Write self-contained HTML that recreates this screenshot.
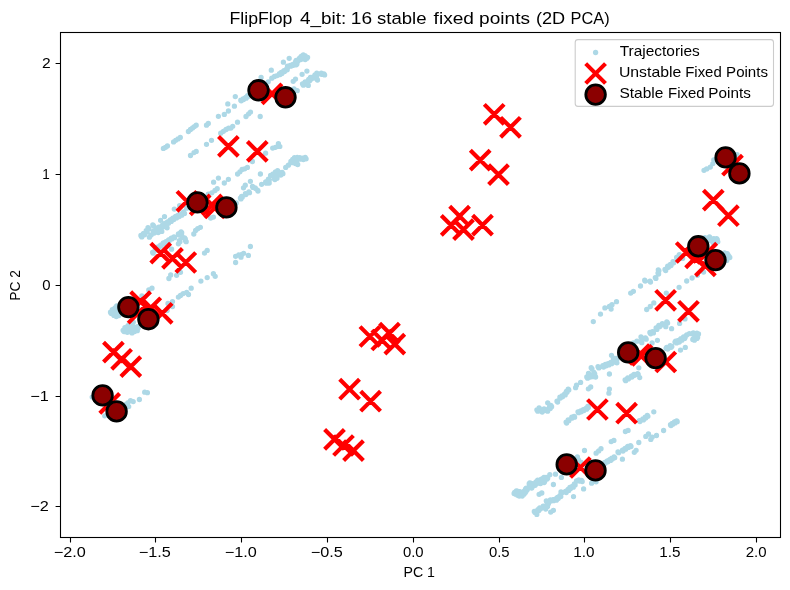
<!DOCTYPE html>
<html><head><meta charset="utf-8"><title>FlipFlop 4_bit</title>
<style>html,body{margin:0;padding:0;background:#fff;}svg{display:block;will-change:transform;}</style>
</head><body>
<svg width="790" height="590" viewBox="0 0 790 590">
<rect x="0" y="0" width="790" height="590" fill="#fff"/>
<defs><clipPath id="c"><rect x="60.5" y="32.5" width="720.0" height="505.0"/></clipPath></defs>
<g clip-path="url(#c)">
<g fill="#add8e6">
<path d="M235.3 96.6h0M241.0 100.5h0M243.3 99.2h0M246.0 97.8h0M247.8 96.0h0M261.1 77.4h0M271.3 70.2h0M268.2 81.8h0M271.8 78.2h0M274.5 76.5h0M277.1 75.6h0M279.8 74.2h0M281.6 72.9h0M283.4 62.2h0M289.2 58.3h0M284.3 71.1h0M286.9 69.4h0M287.8 66.7h0M290.5 65.8h0M293.2 64.9h0M295.8 64.0h0M296.7 61.3h0M300.3 58.7h0M302.1 56.9h0M303.8 55.7h0M306.5 57.4h0M304.7 58.7h0M234.4 106.2h0M246.0 116.5h0M248.7 113.8h0M250.5 112.1h0M260.2 116.5h0M237.5 122.2h0M232.7 126.3h0M230.9 128.1h0M293.2 81.3h0M295.5 79.1h0M297.2 90.7h0M294.0 88.9h0M302.1 74.3h0M306.9 71.1h0M302.9 84.5h0M305.6 82.7h0M308.3 85.4h0M309.2 80.0h0M310.9 78.2h0M313.6 77.4h0M315.4 75.6h0M317.2 73.8h0M321.6 73.8h0M324.3 74.3h0M317.2 79.5h0M278.4 143.7h0M163.4 148.4h0M165.6 147.3h0M167.4 146.0h0M173.6 141.9h0M175.7 140.3h0M178.0 138.9h0M180.3 137.5h0M188.4 131.5h0M190.5 129.5h0M192.6 127.9h0M194.4 126.6h0M196.2 125.2h0M206.5 125.2h0M208.3 123.4h0M218.4 116.3h0M224.3 114.4h0M228.4 111.0h0M227.8 103.9h0M190.5 155.5h0M194.0 152.6h0M196.2 151.4h0M206.5 144.3h0M211.5 140.3h0M220.7 133.2h0M223.4 131.3h0M226.1 129.5h0M228.7 128.1h0M265.6 153.2h0M252.4 161.5h0M247.4 167.4h0M244.7 168.8h0M242.1 169.5h0M239.9 171.8h0M237.6 174.0h0M260.4 174.0h0M218.4 178.1h0M213.6 182.2h0M228.4 179.3h0M224.3 183.0h0M250.4 181.3h0M245.3 185.2h0M243.5 187.8h0M252.8 187.0h0M255.4 188.2h0M257.7 190.5h0M261.6 184.3h0M266.1 182.5h0M268.8 179.8h0M217.2 188.7h0M215.0 190.5h0M211.8 192.8h0M208.3 194.1h0M249.2 192.3h0M245.6 194.1h0M272.7 148.1h0M275.4 147.3h0M279.8 146.4h0M241.9 196.7h0M240.7 198.5h0M236.2 202.9h0M268.8 182.5h0M270.6 175.4h0M273.6 174.5h0M275.9 172.7h0M278.0 171.3h0M276.6 177.7h0M274.5 178.9h0M282.5 173.1h0M280.3 174.5h0M285.7 167.4h0M288.4 165.2h0M291.4 162.0h0M293.2 160.2h0M294.9 158.5h0M297.6 158.1h0M300.3 158.5h0M302.9 158.8h0M305.6 158.1h0M297.2 163.8h0M294.9 162.9h0M141.3 236.2h0M144.0 234.0h0M146.7 231.4h0M148.5 228.4h0M149.4 237.2h0M151.1 234.9h0M153.8 232.3h0M153.3 225.5h0M156.5 229.6h0M159.1 227.8h0M161.8 231.4h0M162.7 226.0h0M160.6 220.3h0M164.5 216.6h0M165.4 224.3h0M168.0 222.5h0M170.7 220.7h0M173.4 218.9h0M176.0 217.1h0M178.7 215.9h0M181.4 214.5h0M184.0 212.7h0M174.3 209.1h0M179.6 205.6h0M167.1 227.8h0M158.2 232.6h0M186.7 208.2h0M152.9 252.7h0M155.6 249.7h0M158.2 247.4h0M160.9 245.6h0M163.6 243.3h0M166.3 242.1h0M168.9 240.3h0M171.6 238.5h0M174.3 237.2h0M178.7 234.4h0M181.4 232.3h0M182.3 236.7h0M184.9 238.5h0M185.8 241.2h0M179.6 241.2h0M178.4 243.8h0M171.6 249.2h0M193.8 234.0h0M195.6 230.5h0M197.7 228.7h0M200.4 227.3h0M210.7 218.0h0M213.4 217.1h0M204.5 253.1h0M207.2 250.4h0M235.6 256.3h0M235.6 262.5h0M238.8 255.0h0M241.0 257.2h0M243.6 253.3h0M248.4 255.4h0M250.4 246.5h0M180.5 272.3h0M213.4 273.7h0M170.7 275.0h0M152.0 288.2h0M148.8 290.0h0M141.9 295.9h0M168.9 278.5h0M176.6 275.3h0M200.9 281.1h0M207.2 277.6h0M215.2 276.3h0M191.2 288.2h0M186.7 292.3h0M188.5 294.5h0M183.2 293.6h0M180.5 295.4h0M178.4 297.1h0M172.5 301.6h0M168.0 303.4h0M172.5 306.6h0M167.1 310.5h0M241.9 254.4h0M123.6 330.9h0M125.3 328.3h0M128.0 325.6h0M130.7 323.8h0M133.3 322.1h0M128.9 330.9h0M131.6 332.2h0M134.2 330.9h0M136.9 330.1h0M137.8 327.4h0M110.9 312.9h0M112.7 310.2h0M115.4 308.5h0M117.1 306.7h0M113.6 314.7h0M116.3 316.5h0M118.9 315.6h0M119.8 312.0h0M126.9 331.6h0M134.0 327.7h0M144.7 392.2h0M147.4 392.7h0M139.4 399.5h0M133.2 401.6h0M130.5 400.7h0M127.8 403.0h0M128.7 406.6h0M126.0 404.3h0M104.7 415.8h0M92.2 397.1h0M537.4 410.5h0M539.5 408.7h0M541.8 411.4h0M544.5 409.6h0M547.1 410.5h0M549.8 407.8h0M551.2 406.0h0M547.7 402.8h0M557.3 401.6h0M560.1 397.7h0M562.3 396.3h0M564.9 394.5h0M566.7 391.8h0M568.5 389.5h0M575.6 387.7h0M576.5 385.2h0M580.6 382.4h0M587.2 377.6h0M589.8 376.3h0M592.5 375.8h0M595.2 376.3h0M591.6 368.3h0M594.3 373.1h0M598.4 367.3h0M603.2 366.4h0M605.9 365.1h0M608.5 364.2h0M611.2 363.0h0M613.9 361.6h0M616.5 362.1h0M613.9 358.9h0M611.5 355.3h0M566.4 422.6h0M568.5 420.3h0M572.1 417.6h0M574.4 416.7h0M578.3 412.3h0M580.9 411.4h0M583.6 410.1h0M586.3 408.7h0M588.1 406.9h0M588.4 388.8h0M590.7 387.0h0M609.4 374.0h0M609.4 389.1h0M608.9 393.2h0M625.4 380.2h0M628.1 378.5h0M631.6 376.7h0M634.3 374.9h0M637.9 374.0h0M639.7 377.6h0M638.8 367.8h0M625.4 431.5h0M628.1 430.4h0M611.2 441.6h0M613.9 440.4h0M601.0 448.7h0M596.1 453.2h0M584.5 450.5h0M618.3 452.3h0M622.8 450.5h0M625.4 448.7h0M628.1 447.0h0M630.8 446.1h0M634.3 452.3h0M638.8 442.5h0M639.7 421.2h0M515.1 493.4h0M516.9 491.6h0M518.7 495.2h0M520.5 492.5h0M522.2 496.0h0M524.0 494.3h0M524.9 491.6h0M526.7 488.9h0M530.2 483.6h0M531.1 487.1h0M534.7 484.5h0M536.5 482.7h0M538.2 480.9h0M540.0 482.7h0M541.8 480.0h0M543.6 481.8h0M544.5 478.2h0M546.6 478.2h0M549.8 474.7h0M555.5 474.2h0M561.4 477.4h0M553.4 484.5h0M539.1 494.3h0M541.8 493.0h0M577.4 456.9h0M578.3 459.6h0M580.9 462.2h0M534.7 512.1h0M536.5 513.8h0M538.2 510.3h0M540.0 508.5h0M543.6 506.7h0M545.4 508.5h0M547.1 505.8h0M548.0 503.2h0M546.6 501.4h0M550.7 500.5h0M553.4 500.1h0M556.0 499.6h0M557.8 497.8h0M560.5 496.0h0M561.4 492.5h0M565.8 491.9h0M568.5 489.8h0M570.3 488.0h0M572.9 486.6h0M574.7 484.5h0M576.5 480.9h0M579.2 480.6h0M581.8 480.9h0M573.5 496.6h0M583.6 488.9h0M550.7 512.1h0M553.4 510.3h0M591.6 483.2h0M596.1 481.8h0M605.0 462.8h0M607.6 461.3h0M610.3 459.9h0M612.1 458.7h0M614.4 457.3h0M622.4 459.2h0M636.1 450.3h0M643.2 419.5h0M645.5 417.7h0M647.6 415.9h0M653.8 411.8h0M670.7 425.2h0M672.5 423.9h0M674.8 422.5h0M677.0 421.2h0M663.6 430.5h0M656.5 435.5h0M648.5 434.0h0M645.8 436.4h0M652.1 437.2h0M650.8 439.4h0M598.7 450.9h0M593.3 321.6h0M600.5 314.1h0M604.9 307.9h0M611.1 309.1h0M612.0 304.7h0M616.5 301.7h0M630.7 293.1h0M633.4 291.3h0M640.5 286.0h0M644.9 280.7h0M650.3 281.6h0M655.6 278.0h0M658.3 273.6h0M665.4 270.0h0M609.4 306.5h0M646.7 309.5h0M650.3 306.5h0M653.8 302.9h0M666.3 293.1h0M679.1 287.3h0M686.7 281.0h0M692.1 278.0h0M697.4 275.3h0M616.5 359.0h0M633.4 342.9h0M636.9 341.2h0M641.4 337.6h0M645.8 338.5h0M641.4 342.1h0M650.3 333.2h0M652.9 332.3h0M656.5 328.7h0M659.2 326.0h0M662.7 324.3h0M667.2 322.5h0M665.4 326.0h0M671.6 328.7h0M679.6 323.4h0M685.0 318.9h0M657.4 340.3h0M652.1 342.9h0M667.2 348.3h0M670.7 346.5h0M676.1 342.1h0M678.7 341.2h0M681.4 339.4h0M684.1 337.6h0M686.7 334.9h0M689.4 333.7h0M693.9 333.7h0M697.4 334.0h0M696.5 337.6h0M693.9 339.4h0M680.5 350.1h0M685.3 347.4h0M588.9 374.1h0M658.6 270.3h0M668.0 266.7h0M670.7 264.9h0M673.4 262.3h0M679.6 255.2h0M682.3 257.8h0M703.6 272.1h0M709.8 237.4h0M717.0 239.1h0M712.5 241.8h0M708.1 240.0h0M717.8 241.8h0M725.0 253.4h0M729.4 256.9h0M726.7 260.5h0M723.2 263.2h0M727.6 254.3h0M704.0 170.3h0M706.7 168.9h0M710.3 167.1h0M712.9 163.6h0M713.8 160.0h0M737.0 154.7h0M114.5 312.0h0M116.6 311.1h0M118.0 309.4h0M116.6 313.8h0M129.6 328.9h0M132.3 328.9h0M705.4 238.2h0M714.3 239.1h0M710.7 240.0h0M715.2 242.7h0M724.1 256.0h0M726.7 256.9h0M676.9 257.8h0M241.2 100.8h0M240.8 100.2h0M243.5 99.6h0M243.1 98.9h0M246.2 98.2h0M245.8 97.5h0M248.0 96.4h0M247.6 95.7h0M280.1 74.6h0M279.5 73.7h0M281.9 73.4h0M281.3 72.5h0M284.5 71.6h0M284.0 70.7h0M287.2 69.8h0M286.7 68.9h0M288.1 67.1h0M287.5 66.2h0M290.8 66.2h0M290.2 65.4h0M293.4 65.3h0M292.9 64.5h0M296.3 64.8h0M295.3 63.2h0M296.9 63.9h0M294.8 64.1h0M297.2 62.2h0M296.2 60.5h0M297.8 61.3h0M295.7 61.4h0M300.8 59.5h0M299.8 57.9h0M301.3 58.6h0M299.2 58.8h0M302.6 57.7h0M301.5 56.1h0M303.1 56.8h0M301.0 57.0h0M304.3 56.5h0M303.3 54.8h0M304.9 55.6h0M302.8 55.7h0M307.0 58.3h0M306.0 56.6h0M307.6 57.3h0M305.4 57.5h0M305.2 59.5h0M304.2 57.9h0M305.8 58.6h0M303.7 58.8h0M303.4 85.2h0M302.5 83.8h0M306.1 83.4h0M305.2 82.0h0M309.6 80.7h0M308.7 79.3h0M311.4 79.0h0M310.5 77.5h0M314.0 77.9h0M313.3 76.8h0M315.7 76.1h0M315.0 75.0h0M317.5 74.4h0M316.8 73.2h0M322.0 74.4h0M321.3 73.2h0M324.6 74.9h0M323.9 73.8h0M317.5 80.0h0M316.8 78.9h0M253.0 187.4h0M252.5 186.5h0M255.7 188.6h0M255.1 187.8h0M258.0 191.0h0M257.5 190.1h0M266.5 183.2h0M265.7 181.8h0M269.2 180.5h0M268.4 179.2h0M249.5 192.7h0M248.9 191.9h0M245.9 194.5h0M245.4 193.6h0M242.2 197.2h0M241.6 196.3h0M240.9 198.9h0M240.4 198.1h0M269.2 183.1h0M268.4 181.8h0M274.0 175.1h0M273.2 173.8h0M276.3 173.4h0M275.5 172.0h0M278.4 171.9h0M277.6 170.6h0M277.0 178.3h0M276.2 177.0h0M274.9 179.6h0M274.1 178.3h0M282.9 173.7h0M282.1 172.4h0M280.8 175.1h0M279.9 173.8h0M291.8 162.7h0M290.9 161.3h0M293.6 161.0h0M292.7 159.5h0M295.4 159.2h0M294.5 157.7h0M298.1 158.8h0M297.2 157.4h0M300.7 159.2h0M299.8 157.7h0M303.4 159.5h0M302.5 158.1h0M306.1 158.8h0M305.2 157.4h0M297.7 164.5h0M296.8 163.1h0M295.4 163.6h0M294.5 162.2h0M141.8 236.9h0M140.9 235.5h0M144.5 234.8h0M143.6 233.3h0M147.1 232.1h0M146.2 230.7h0M148.9 229.1h0M148.0 227.6h0M154.2 233.0h0M153.4 231.5h0M153.7 226.2h0M152.8 224.8h0M156.9 230.3h0M156.0 228.9h0M159.6 228.5h0M158.7 227.1h0M163.1 226.8h0M162.2 225.3h0M165.8 225.0h0M164.9 223.5h0M168.5 223.2h0M167.6 221.8h0M171.2 221.4h0M170.3 220.0h0M173.8 219.6h0M172.9 218.2h0M176.5 217.9h0M175.6 216.4h0M179.2 216.6h0M178.3 215.2h0M181.8 215.2h0M180.9 213.8h0M184.5 213.4h0M183.6 212.0h0M153.2 253.2h0M152.6 252.3h0M155.9 250.1h0M155.3 249.3h0M158.5 247.8h0M158.0 246.9h0M161.2 246.1h0M160.6 245.2h0M163.9 243.7h0M163.3 242.9h0M166.5 242.5h0M166.0 241.6h0M169.2 240.7h0M168.6 239.8h0M171.9 238.9h0M171.3 238.1h0M174.5 237.7h0M174.0 236.8h0M179.1 235.0h0M178.4 233.8h0M181.7 232.7h0M181.1 231.8h0M182.6 237.3h0M181.9 236.2h0M185.3 239.0h0M184.6 237.9h0M186.2 241.7h0M185.5 240.6h0M179.9 241.7h0M179.3 240.6h0M124.0 331.6h0M123.1 330.3h0M125.8 328.9h0M124.9 327.6h0M129.3 331.6h0M128.5 330.3h0M132.0 332.9h0M131.2 331.5h0M134.6 331.6h0M133.8 330.3h0M137.3 330.7h0M136.5 329.4h0M138.2 328.1h0M137.4 326.7h0M111.3 313.6h0M110.5 312.2h0M113.1 310.9h0M112.3 309.6h0M115.8 309.1h0M115.0 307.8h0M117.6 307.3h0M116.7 306.0h0M114.0 315.4h0M113.2 314.0h0M120.2 312.7h0M119.4 311.4h0M127.3 332.3h0M126.5 330.9h0M134.5 328.3h0M133.6 327.0h0M537.8 411.2h0M536.9 409.8h0M539.9 409.4h0M539.1 408.0h0M542.2 412.0h0M541.4 410.7h0M544.9 410.3h0M544.1 408.9h0M547.6 411.2h0M546.7 409.8h0M550.2 408.5h0M549.4 407.2h0M551.6 406.7h0M550.8 405.4h0M557.6 402.0h0M557.0 401.2h0M560.4 398.1h0M559.9 397.2h0M562.5 396.7h0M562.0 395.8h0M565.2 394.9h0M564.7 394.0h0M567.0 392.2h0M566.4 391.4h0M568.8 389.9h0M568.2 389.1h0M587.6 378.2h0M586.8 376.9h0M590.3 377.0h0M589.4 375.7h0M592.9 376.5h0M592.1 375.1h0M595.6 377.0h0M594.8 375.7h0M592.0 369.0h0M591.2 367.7h0M594.7 373.8h0M593.9 372.5h0M598.8 367.9h0M598.0 366.6h0M603.6 367.0h0M602.8 365.7h0M606.3 365.8h0M605.4 364.5h0M608.9 364.9h0M608.1 363.6h0M611.6 363.7h0M610.8 362.3h0M614.3 362.2h0M613.4 360.9h0M616.9 362.8h0M616.1 361.4h0M614.3 359.6h0M613.4 358.2h0M566.6 423.0h0M566.1 422.1h0M568.8 420.7h0M568.2 419.8h0M572.3 418.0h0M571.8 417.2h0M574.6 417.2h0M574.1 416.3h0M578.6 412.7h0M578.0 411.8h0M581.2 411.8h0M580.7 410.9h0M583.9 410.6h0M583.3 409.7h0M586.6 409.2h0M586.0 408.3h0M588.3 407.4h0M587.8 406.5h0M625.7 380.7h0M625.1 379.8h0M628.4 378.9h0M627.8 378.0h0M631.9 377.1h0M631.4 376.2h0M634.6 375.3h0M634.0 374.5h0M638.2 374.5h0M637.6 373.6h0M618.6 452.7h0M618.0 451.9h0M623.0 451.0h0M622.5 450.1h0M625.7 449.2h0M625.1 448.3h0M628.4 447.4h0M627.8 446.5h0M631.0 446.5h0M630.5 445.6h0M639.9 421.6h0M639.4 420.7h0M515.6 494.2h0M514.6 492.5h0M516.2 493.3h0M514.1 493.5h0M517.4 492.4h0M516.4 490.8h0M518.0 491.5h0M515.8 491.7h0M519.2 496.0h0M518.2 494.3h0M519.7 495.1h0M517.6 495.2h0M521.0 493.3h0M519.9 491.7h0M521.5 492.4h0M519.4 492.6h0M525.4 492.4h0M524.4 490.8h0M526.0 491.5h0M523.8 491.7h0M527.2 489.8h0M526.2 488.1h0M527.7 488.8h0M525.6 489.0h0M530.8 484.4h0M529.7 482.8h0M531.3 483.5h0M529.2 483.7h0M531.7 488.0h0M530.6 486.3h0M532.2 487.1h0M530.1 487.2h0M535.2 485.3h0M534.2 483.6h0M535.7 484.4h0M533.6 484.6h0M537.0 483.5h0M536.0 481.9h0M537.5 482.6h0M535.4 482.8h0M538.8 481.7h0M537.7 480.1h0M539.3 480.8h0M537.2 481.0h0M540.5 483.5h0M539.5 481.9h0M541.1 482.6h0M539.0 482.8h0M542.3 480.9h0M541.3 479.2h0M542.9 479.9h0M540.7 480.1h0M544.1 482.6h0M543.1 481.0h0M544.6 481.7h0M542.5 481.9h0M545.0 479.1h0M544.0 477.4h0M545.5 478.2h0M543.4 478.3h0M547.1 479.1h0M546.1 477.4h0M547.7 478.2h0M545.6 478.3h0M535.0 512.6h0M534.3 511.5h0M536.8 514.4h0M536.1 513.3h0M538.6 510.8h0M537.9 509.7h0M540.4 509.0h0M539.7 507.9h0M543.9 507.3h0M543.2 506.2h0M545.7 509.0h0M545.0 507.9h0M547.5 506.4h0M546.8 505.3h0M548.4 503.7h0M547.7 502.6h0M547.0 501.9h0M546.3 500.8h0M551.0 501.0h0M550.4 499.9h0M553.7 500.7h0M553.0 499.6h0M556.4 500.2h0M555.7 499.0h0M558.2 498.4h0M557.5 497.3h0M560.8 496.6h0M560.1 495.5h0M561.7 493.0h0M561.0 491.9h0M566.2 492.5h0M565.5 491.4h0M568.8 490.4h0M568.1 489.3h0M570.6 488.6h0M569.9 487.5h0M573.3 487.2h0M572.6 486.1h0M575.1 485.0h0M574.4 483.9h0M579.5 481.1h0M578.8 480.0h0M582.2 481.5h0M581.5 480.4h0M605.2 463.2h0M604.7 462.3h0M607.9 461.8h0M607.4 460.9h0M610.6 460.4h0M610.0 459.5h0M612.4 459.1h0M611.8 458.2h0M614.7 457.7h0M614.1 456.8h0M643.4 419.9h0M642.9 419.0h0M645.7 418.1h0M645.2 417.2h0M647.9 416.3h0M647.3 415.5h0M671.0 425.6h0M670.5 424.7h0M672.8 424.3h0M672.2 423.5h0M675.1 422.9h0M674.5 422.0h0M677.2 421.7h0M676.7 420.8h0M645.2 281.1h0M644.7 280.2h0M650.5 282.0h0M650.0 281.1h0M655.9 278.4h0M655.3 277.6h0M658.6 274.0h0M658.0 273.1h0M665.7 270.6h0M665.0 269.4h0M616.9 359.6h0M616.1 358.3h0M641.8 338.3h0M641.0 336.9h0M646.2 339.2h0M645.4 337.8h0M641.8 342.7h0M641.0 341.4h0M650.7 333.8h0M649.9 332.5h0M653.4 332.9h0M652.5 331.6h0M656.9 329.4h0M656.1 328.0h0M659.6 326.7h0M658.8 325.4h0M663.1 324.9h0M662.3 323.6h0M667.6 323.1h0M666.8 321.8h0M665.8 326.7h0M665.0 325.4h0M667.7 349.1h0M666.7 347.4h0M668.2 348.2h0M666.1 348.4h0M671.2 347.3h0M670.2 345.7h0M671.8 346.4h0M669.7 346.6h0M676.6 342.9h0M675.6 341.2h0M677.1 342.0h0M675.0 342.1h0M679.3 342.0h0M678.2 340.3h0M679.8 341.1h0M677.7 341.2h0M681.9 340.2h0M680.9 338.6h0M682.5 339.3h0M680.3 339.5h0M684.6 338.4h0M683.6 336.8h0M685.1 337.5h0M683.0 337.7h0M694.4 334.5h0M693.3 332.9h0M694.9 333.6h0M692.8 333.8h0M697.9 334.9h0M696.9 333.2h0M698.5 334.0h0M696.4 334.1h0M697.0 338.4h0M696.0 336.8h0M697.6 337.5h0M695.5 337.7h0M694.4 340.2h0M693.3 338.6h0M694.9 339.3h0M692.8 339.5h0M589.3 374.7h0M588.5 373.4h0M658.9 270.7h0M658.3 269.8h0M668.4 267.3h0M667.7 266.2h0M671.0 265.5h0M670.4 264.4h0M673.7 262.8h0M673.0 261.7h0M679.9 255.7h0M679.3 254.6h0M682.6 258.4h0M681.9 257.3h0M710.2 237.9h0M709.5 236.8h0M717.3 239.7h0M716.6 238.6h0M712.9 242.4h0M712.2 241.3h0M708.4 240.6h0M707.7 239.5h0M725.3 253.9h0M724.6 252.8h0M729.8 257.5h0M729.1 256.4h0M728.0 254.8h0M727.3 253.7h0M114.9 312.7h0M114.1 311.4h0M117.0 311.8h0M116.2 310.5h0M118.4 310.0h0M117.6 308.7h0M117.0 314.5h0M116.2 313.1h0M130.0 329.6h0M129.2 328.3h0M132.7 329.6h0M131.9 328.3h0M705.7 238.8h0M705.0 237.7h0M714.6 239.7h0M713.9 238.6h0M711.1 240.6h0M710.4 239.5h0M724.4 256.6h0M723.7 255.5h0M727.1 257.5h0M726.4 256.4h0M677.3 258.4h0M676.6 257.3h0" stroke="#add8e6" stroke-width="5.3" stroke-linecap="round" fill="none"/>
</g>
<path d="M262.1 83.9L281.9 103.7M262.1 103.7L281.9 83.9M218.5 136.5L238.3 156.3M218.5 156.3L238.3 136.5M247.4 141.5L267.2 161.3M247.4 161.3L267.2 141.5M177.0 191.4L196.8 211.2M177.0 211.2L196.8 191.4M190.3 195.0L210.1 214.8M190.3 214.8L210.1 195.0M202.0 195.0L221.8 214.8M202.0 214.8L221.8 195.0M204.8 198.1L224.6 217.9M204.8 217.9L224.6 198.1M150.8 243.2L170.6 263.0M150.8 263.0L170.6 243.2M162.6 248.5L182.4 268.3M162.6 268.3L182.4 248.5M175.9 252.6L195.7 272.4M175.9 272.4L195.7 252.6M130.7 291.7L150.5 311.5M130.7 311.5L150.5 291.7M140.9 297.9L160.7 317.7M140.9 317.7L160.7 297.9M152.3 303.4L172.1 323.2M152.3 323.2L172.1 303.4M128.2 303.3L148.0 323.1M128.2 323.1L148.0 303.3M103.5 342.2L123.3 362.0M103.5 362.0L123.3 342.2M111.7 349.4L131.5 369.2M111.7 369.2L131.5 349.4M120.9 356.7L140.7 376.5M120.9 376.5L140.7 356.7M99.8 393.5L119.6 413.3M99.8 413.3L119.6 393.5M484.3 104.4L504.1 124.2M484.3 124.2L504.1 104.4M500.6 117.4L520.4 137.2M500.6 137.2L520.4 117.4M470.3 150.2L490.1 170.0M470.3 170.0L490.1 150.2M488.6 164.7L508.4 184.5M488.6 184.5L508.4 164.7M449.7 206.3L469.5 226.1M449.7 226.1L469.5 206.3M441.3 215.5L461.1 235.3M441.3 235.3L461.1 215.5M453.6 219.7L473.4 239.5M453.6 239.5L473.4 219.7M472.6 215.2L492.4 235.0M472.6 235.0L492.4 215.2M360.0 326.6L379.8 346.4M360.0 346.4L379.8 326.6M371.9 330.1L391.7 349.9M371.9 349.9L391.7 330.1M379.6 323.2L399.4 343.0M379.6 343.0L399.4 323.2M384.9 334.2L404.7 354.0M384.9 354.0L404.7 334.2M339.7 379.3L359.5 399.1M339.7 399.1L359.5 379.3M360.7 391.3L380.5 411.1M360.7 411.1L380.5 391.3M324.6 429.5L344.4 449.3M324.6 449.3L344.4 429.5M333.6 435.6L353.4 455.4M333.6 455.4L353.4 435.6M343.6 440.7L363.4 460.5M343.6 460.5L363.4 440.7M722.6 155.3L742.4 175.1M722.6 175.1L742.4 155.3M703.4 190.2L723.2 210.0M703.4 210.0L723.2 190.2M718.5 205.8L738.3 225.6M718.5 225.6L738.3 205.8M676.3 242.6L696.1 262.4M676.3 262.4L696.1 242.6M685.7 247.9L705.5 267.7M685.7 267.7L705.5 247.9M695.5 255.9L715.3 275.7M695.5 275.7L715.3 255.9M696.9 243.3L716.7 263.1M696.9 263.1L716.7 243.3M655.7 290.4L675.5 310.2M655.7 310.2L675.5 290.4M678.6 301.4L698.4 321.2M678.6 321.2L698.4 301.4M632.1 345.4L651.9 365.2M632.1 365.2L651.9 345.4M629.7 344.6L649.5 364.4M629.7 364.4L649.5 344.6M655.9 352.1L675.7 371.9M655.9 371.9L675.7 352.1M587.5 399.6L607.3 419.4M587.5 419.4L607.3 399.6M616.7 403.3L636.5 423.1M616.7 423.1L636.5 403.3M570.5 457.6L590.3 477.4M570.5 477.4L590.3 457.6" stroke="#f00" stroke-width="4.17" fill="none" stroke-linecap="butt"/>
<g fill="#8b0000" stroke="#000" stroke-width="2.78">
<circle cx="258.5" cy="90.3" r="9.8"/>
<circle cx="285.5" cy="97.3" r="9.8"/>
<circle cx="197.4" cy="202.4" r="9.8"/>
<circle cx="226.4" cy="207.4" r="9.8"/>
<circle cx="128.4" cy="307.1" r="9.8"/>
<circle cx="148.4" cy="319.2" r="9.8"/>
<circle cx="102.6" cy="395.4" r="9.8"/>
<circle cx="116.6" cy="411.4" r="9.8"/>
<circle cx="725.6" cy="157.4" r="9.8"/>
<circle cx="739.4" cy="173.4" r="9.8"/>
<circle cx="698.3" cy="246.3" r="9.8"/>
<circle cx="715.5" cy="260.1" r="9.8"/>
<circle cx="628.2" cy="352.4" r="9.8"/>
<circle cx="655.6" cy="358.1" r="9.8"/>
<circle cx="566.7" cy="464.4" r="9.8"/>
<circle cx="595.5" cy="470.4" r="9.8"/>
</g>
</g>
<rect x="60.5" y="32.5" width="720.0" height="505.0" fill="none" stroke="#000" stroke-width="1.1"/>
<path d="M70.5 537.5v4.9M155.5 537.5v4.9M241.5 537.5v4.9M327.5 537.5v4.9M413.5 537.5v4.9M499.5 537.5v4.9M584.5 537.5v4.9M670.5 537.5v4.9M756.5 537.5v4.9M60.5 63.5h-4.9M60.5 174.5h-4.9M60.5 285.5h-4.9M60.5 396.5h-4.9M60.5 506.5h-4.9" stroke="#000" stroke-width="1.1" fill="none"/>
<g font-family="Liberation Sans, sans-serif" fill="#000">
<text x="53.69" y="557.00" font-size="14.3" textLength="32.05" lengthAdjust="spacingAndGlyphs">−2.0</text>
<text x="138.69" y="557.00" font-size="14.3" textLength="32.05" lengthAdjust="spacingAndGlyphs">−1.5</text>
<text x="224.69" y="557.00" font-size="14.3" textLength="32.05" lengthAdjust="spacingAndGlyphs">−1.0</text>
<text x="310.69" y="557.00" font-size="14.3" textLength="32.05" lengthAdjust="spacingAndGlyphs">−0.5</text>
<text x="402.90" y="557.00" font-size="14.3" textLength="20.69" lengthAdjust="spacingAndGlyphs">0.0</text>
<text x="488.90" y="557.00" font-size="14.3" textLength="20.69" lengthAdjust="spacingAndGlyphs">0.5</text>
<text x="573.35" y="557.00" font-size="14.3" textLength="21.26" lengthAdjust="spacingAndGlyphs">1.0</text>
<text x="659.35" y="557.00" font-size="14.3" textLength="21.26" lengthAdjust="spacingAndGlyphs">1.5</text>
<text x="745.75" y="557.00" font-size="14.3" textLength="20.85" lengthAdjust="spacingAndGlyphs">2.0</text>
<text x="42.12" y="68.40" font-size="14.3" textLength="8.68" lengthAdjust="spacingAndGlyphs">2</text>
<text x="42.19" y="179.40" font-size="14.3" textLength="7.50" lengthAdjust="spacingAndGlyphs">1</text>
<text x="42.30" y="290.40" font-size="14.3" textLength="8.31" lengthAdjust="spacingAndGlyphs">0</text>
<text x="30.39" y="401.40" font-size="14.3" textLength="18.53" lengthAdjust="spacingAndGlyphs">−1</text>
<text x="30.39" y="511.40" font-size="14.3" textLength="18.53" lengthAdjust="spacingAndGlyphs">−2</text>
<text x="403.47" y="576.80" font-size="14.3" textLength="31.49" lengthAdjust="spacingAndGlyphs">PC 1</text>
<text transform="translate(20.1 299.7) rotate(-90)" x="-1.11" y="0" font-size="14.3" textLength="30.74" lengthAdjust="spacingAndGlyphs">PC 2</text>
<text x="229.49" y="23.50" font-size="17.1" textLength="62.85" lengthAdjust="spacingAndGlyphs">FlipFlop</text>
<text x="300.03" y="23.50" font-size="17.1" textLength="46.30" lengthAdjust="spacingAndGlyphs">4_bit:</text>
<text x="350.77" y="23.50" font-size="17.1" textLength="21.24" lengthAdjust="spacingAndGlyphs">16</text>
<text x="376.94" y="23.50" font-size="17.1" textLength="49.56" lengthAdjust="spacingAndGlyphs">stable</text>
<text x="433.61" y="23.50" font-size="17.1" textLength="40.37" lengthAdjust="spacingAndGlyphs">fixed</text>
<text x="479.06" y="23.50" font-size="17.1" textLength="50.98" lengthAdjust="spacingAndGlyphs">points</text>
<text x="535.91" y="23.50" font-size="17.1" textLength="29.23" lengthAdjust="spacingAndGlyphs">(2D</text>
<text x="570.59" y="23.50" font-size="17.1" textLength="39.06" lengthAdjust="spacingAndGlyphs">PCA)</text>
</g>
<rect x="575.2" y="39.6" width="198.3" height="66.8" rx="2.8" ry="2.8" fill="#fff" fill-opacity="0.8" stroke="#ccc" stroke-width="1.1"/>
<circle cx="595.6" cy="52.5" r="2.65" fill="#add8e6"/>
<path d="M585.7 63.6L605.5 83.4M585.7 83.4L605.5 63.6" stroke="#f00" stroke-width="4.17" fill="none"/>
<circle cx="595.6" cy="94.6" r="9.8" fill="#8b0000" stroke="#000" stroke-width="2.78"/>
<g font-family="Liberation Sans, sans-serif" fill="#000">
<text x="619.71" y="55.70" font-size="14.3" textLength="80.15" lengthAdjust="spacingAndGlyphs">Trajectories</text>
<text x="618.91" y="76.60" font-size="14.3" textLength="62.43" lengthAdjust="spacingAndGlyphs">Unstable</text>
<text x="685.20" y="76.60" font-size="14.3" textLength="36.57" lengthAdjust="spacingAndGlyphs">Fixed</text>
<text x="726.09" y="76.60" font-size="14.3" textLength="41.93" lengthAdjust="spacingAndGlyphs">Points</text>
<text x="619.40" y="97.50" font-size="14.3" textLength="44.01" lengthAdjust="spacingAndGlyphs">Stable</text>
<text x="668.00" y="97.50" font-size="14.3" textLength="36.57" lengthAdjust="spacingAndGlyphs">Fixed</text>
<text x="708.38" y="97.50" font-size="14.3" textLength="42.45" lengthAdjust="spacingAndGlyphs">Points</text>
</g>
</svg>
</body></html>
